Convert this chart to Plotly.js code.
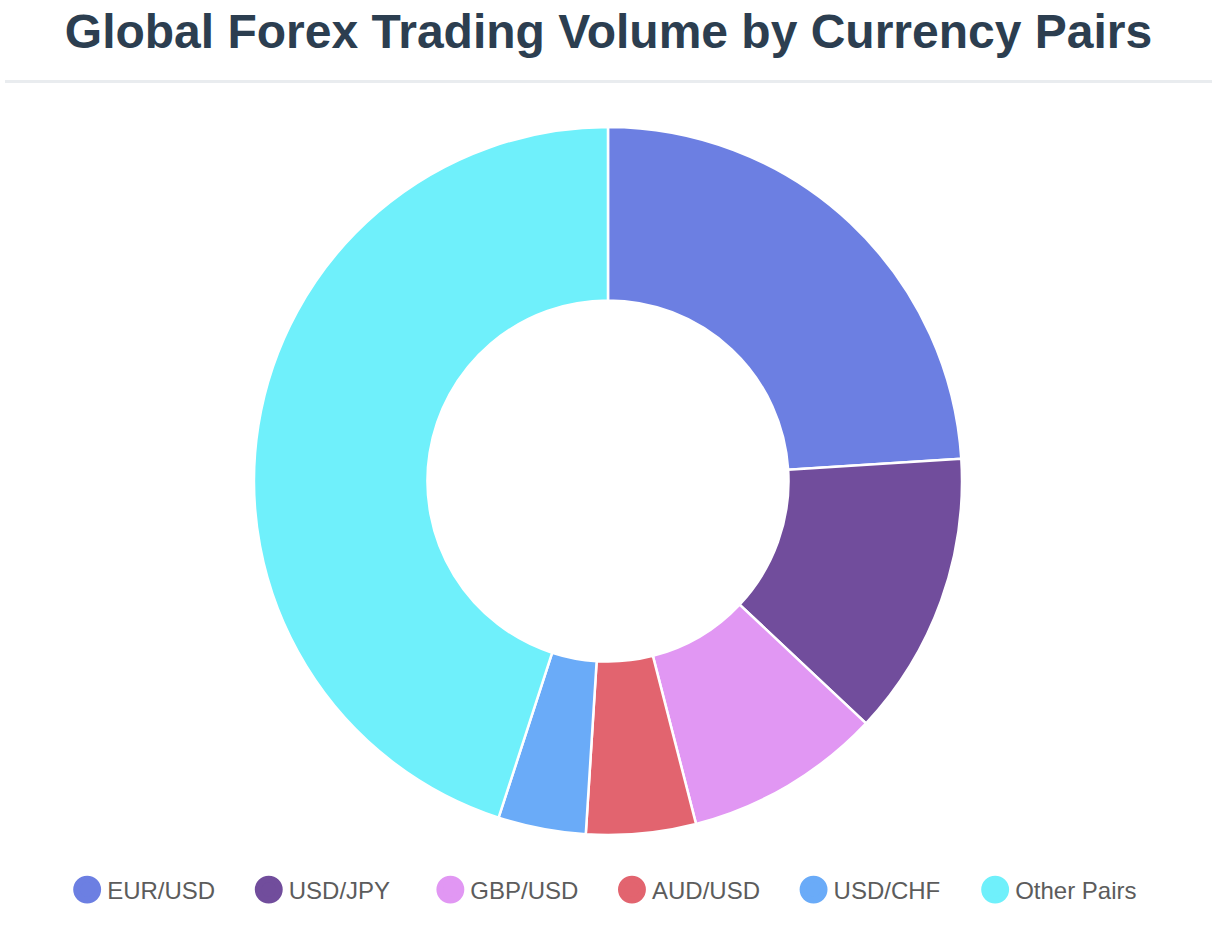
<!DOCTYPE html>
<html>
<head>
<meta charset="utf-8">
<script src="https://cdn.plot.ly/plotly-3.0.1.min.js"></script>
<style>
  body { margin: 0; background: #fff; font-family: "Liberation Sans", Arial, Helvetica, sans-serif; }
  #chart { position: absolute; left: 0; top: 0; width: 1228px; height: 952px; }
  #header {
    position: absolute; left: 5px; top: 0; width: 1207px; height: 80px;
    border-bottom: 3px solid #e9ecef; z-index: 2; pointer-events: none;
  }
  #header h1 {
    position: absolute; left: 0; right: 0; top: 4px; margin: 0;
    text-align: center; font-size: 48px; font-weight: bold; color: #2c3e50;
    line-height: normal;
  }
</style>
</head>
<body>
<div id="chart"></div>
<div id="header"><h1>Global Forex Trading Volume by Currency Pairs</h1></div>
<script>
// share of daily turnover, percent
const pairs = ['EUR/USD', 'USD/JPY', 'GBP/USD', 'AUD/USD', 'USD/CHF', 'Other Pairs'];
const shares = [24, 13, 9, 5, 4, 45];
const colors = ['#6c7fe2', '#714d9c', '#e197f3', '#e2646f', '#6aabf8', '#6ff0fb'];

let donut = {
    type: 'pie',
    labels: pairs,
    values: shares,
    hole: 0.51,
    sort: false,
    direction: 'clockwise',
    rotation: 0,
    textinfo: 'none',
    showlegend: false,
    marker: {
        colors: colors,
        line: { color: '#ffffff', width: 2.5 }
    },
    domain: { x: [0.2068, 0.7834], y: [0.1229, 0.8666] }
};

//legend entries with round markers
let legendItems = pairs.map((name, i) => ({
    type: 'scatter',
    mode: 'markers',
    x: [null],
    y: [null],
    name: name,
    showlegend: true,
    marker: { symbol: 'circle', size: 16, color: colors[i], line: { color: colors[i], width: 5 } },
    hoverinfo: 'skip'
}));

let layout = {
    width: 1228,
    height: 952,
    margin: { l: 0, r: 0, t: 0, b: 0 },
    paper_bgcolor: '#ffffff',
    plot_bgcolor: '#ffffff',
    font: { family: '"Liberation Sans", Arial, Helvetica, sans-serif', color: '#5c5c5c' },
    xaxis: { visible: false },
    yaxis: { visible: false },
    showlegend: true,
    legend: {
        orientation: 'h',
        x: 0.4985,
        xanchor: 'center',
        y: 0.0651,
        yanchor: 'middle',
        font: { size: 24, color: '#5c5c5c' },
        entrywidth: 136.6,
        entrywidthmode: 'pixels',
        itemsizing: 'trace'
    }
};

Plotly.newPlot('chart', [donut].concat(legendItems), layout, { displayModeBar: false, staticPlot: true })
    .then(gd => {
        // legend markers are capped in size, scale them up to match
        gd.querySelectorAll('.legendpoints path').forEach(p => {
            let t = p.getAttribute('transform') || '';
            p.setAttribute('transform', t + ' scale(1.33)');
        });
    });
</script>
</body>
</html>
